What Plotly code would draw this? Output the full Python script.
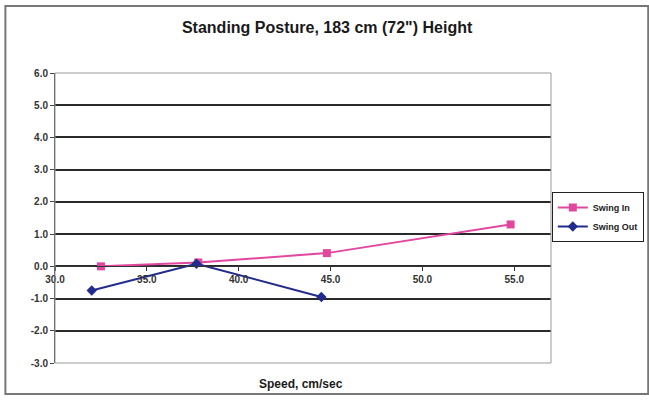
import plotly.graph_objects as go

# Data
swing_in_x = [32.5, 37.8, 44.8, 54.8]
swing_in_y = [0.0, 0.12, 0.41, 1.3]
swing_out_x = [32.0, 37.7, 44.5]
swing_out_y = [-0.75, 0.08, -0.95]

y_tick_vals = [-3, -2, -1, 0, 1, 2, 3, 4, 5, 6]
y_tick_labels = ["-3.0", "-2.0", "-1.0", "0.0", "1.0", "2.0", "3.0", "4.0", "5.0", "6.0"]
x_tick_vals = [30, 35, 40, 45, 50, 55]
x_tick_labels = ["30.0", "35.0", "40.0", "45.0", "50.0", "55.0"]

title_text = 'Standing Posture, 183 cm (72") Height'
x_title = "Speed, cm/sec"

PINK = "#E2479F"
NAVY = "#222C8C"
FONT = "Liberation Sans Narrow, Liberation Sans, Arial, sans-serif"

fig = go.Figure()
fig.add_trace(go.Scatter(
    x=swing_in_x, y=swing_in_y, name="Swing In", mode="lines+markers",
    line=dict(color=PINK, width=2),
    marker=dict(symbol="square", size=8, color=PINK),
))
fig.add_trace(go.Scatter(
    x=swing_out_x, y=swing_out_y, name="Swing Out", mode="lines+markers",
    line=dict(color=NAVY, width=2),
    marker=dict(symbol="diamond", size=8, color=NAVY),
))

fig.update_layout(
    width=649, height=400,
    margin=dict(l=55, r=98, t=73, b=37, autoexpand=False),
    paper_bgcolor="white", plot_bgcolor="white",
    title=dict(text=title_text, x=0.504, xanchor="center", y=0.932, yanchor="middle",
               font=dict(family=FONT, size=16, color="#1a1a1a", weight="bold")),
    showlegend=True,
    legend=dict(xref="container", yref="container", x=0.992, y=0.52,
                xanchor="right", yanchor="top",
                bordercolor="#222", borderwidth=1, bgcolor="white",
                font=dict(family=FONT, size=9, color="#222", weight="bold"),
                itemwidth=30, tracegroupgap=0),
    xaxis=dict(
        range=[30, 57], tickvals=x_tick_vals, ticktext=x_tick_labels,
        anchor="free", position=1/3,
        showline=True, linecolor="#333", linewidth=1,
        ticks="outside", ticklen=4, tickcolor="#333",
        showgrid=False, zeroline=False,
        tickfont=dict(family=FONT, size=10, color="#333", weight="bold"),
    ),
    yaxis=dict(
        range=[-3, 6], tickvals=y_tick_vals, ticktext=y_tick_labels, domain=[0, 1],
        showline=True, linecolor="#444", linewidth=1,
        ticks="outside", ticklen=4, tickcolor="#444",
        showgrid=True, gridcolor="#2a2a2a", gridwidth=2,
        zeroline=False,
        tickfont=dict(family=FONT, size=10, color="#333", weight="bold"),
    ),
    annotations=[dict(text=x_title, xref="paper", yref="paper", x=0.495, y=-0.04,
                      xanchor="center", yanchor="top", showarrow=False,
                      font=dict(family=FONT, size=12, color="#1a1a1a", weight="bold"))],
    shapes=[
        dict(type="rect", xref="paper", yref="paper", x0=0, y0=0, x1=1, y1=1,
             line=dict(color="#9a9a9a", width=1), layer="above"),
        dict(type="rect", xref="paper", yref="paper", x0=-0.1, y0=-0.107, x1=1.196, y1=1.231,
             line=dict(color="#777", width=2), layer="below"),
    ],
)

fig.write_html("out.html", config={"displayModeBar": False},
               post_script="document.body.style.margin='0';document.body.style.overflow='hidden';")
